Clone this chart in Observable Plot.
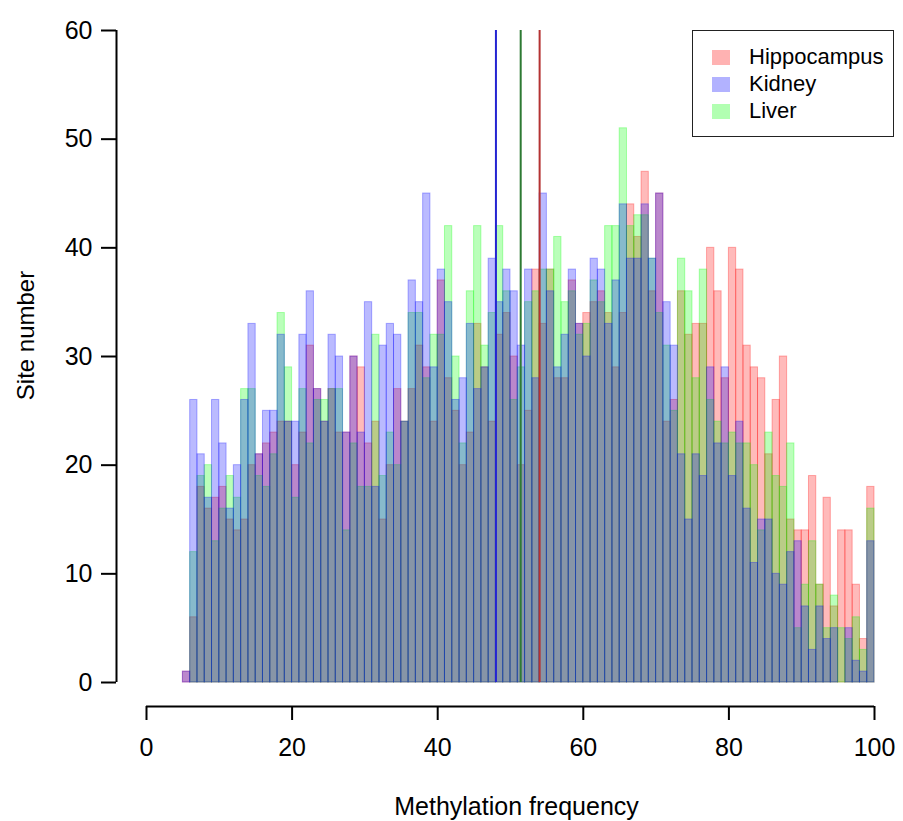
<!DOCTYPE html>
<html>
<head>
<meta charset="utf-8">
<script src="https://cdn.jsdelivr.net/npm/d3@7"></script>
<script src="https://cdn.jsdelivr.net/npm/@observablehq/plot@0.6"></script>
<style>
  html, body { margin: 0; padding: 0; background: #fff; }
  #wrap { position: relative; width: 903px; height: 821px; font-family: "Liberation Sans", Arial, sans-serif; }
  #legend { position: absolute; left: 692px; top: 30px; width: 202px; height: 107px; border: 1.5px solid #222; box-sizing: border-box; background: #fff; }
  .row { position: absolute; left: 0; height: 24px; line-height: 24px; font-size: 22px; color: #000; }
  .sw { position: absolute; left: 19px; top: 5px; width: 18px; height: 15px; }
  .lab { position: absolute; left: 56px; top: 0; white-space: nowrap; }
</style>
</head>
<body>
<div id="wrap"></div>
<script>
// Histogram bins (left edge of each 1-unit bin of methylation frequency)
const binStart = [5,6,7,8,9,10,11,12,13,14,15,16,17,18,19,20,21,22,23,24,25,26,27,28,29,30,31,32,33,34,35,36,37,38,39,40,41,42,43,44,45,46,47,48,49,50,51,52,53,54,55,56,57,58,59,60,61,62,63,64,65,66,67,68,69,70,71,72,73,74,75,76,77,78,79,80,81,82,83,84,85,86,87,88,89,90,91,92,93,94,95,96,97,98,99];

// Site counts per bin for each tissue
const hippocampus = [1,6,18,16,17,18,15,14,15,20,21,22,23,24,24,20,23,31,27,24,27,23,23,30,29,22,24,15,20,27,24,27,31,29,24,37,28,25,20,23,33,29,24,32,34,30,20,25,38,33,38,28,28,37,33,34,35,36,34,29,34,44,41,47,36,45,24,26,36,32,33,33,40,36,28,40,38,31,29,28,21,26,30,15,14,14,19,9,17,7,14,14,9,4,18];
const kidney = [1,26,21,17,26,22,16,20,26,33,21,25,25,32,24,24,32,36,27,24,32,30,23,30,23,35,18,31,33,32,24,37,35,45,29,38,35,26,28,33,27,29,39,35,38,36,31,38,28,45,36,29,32,38,33,30,39,38,33,37,44,39,39,44,39,45,35,31,21,15,21,19,29,22,29,19,24,16,11,15,15,10,9,12,13,7,3,7,4,5,0,5,2,1,13];
const liver = [0,12,19,20,13,16,19,17,27,27,19,18,21,34,29,17,27,22,26,26,27,27,14,22,18,18,32,19,23,20,24,34,34,28,32,32,42,30,22,36,42,31,34,42,36,26,29,35,36,38,38,41,35,36,32,33,37,35,42,42,51,42,43,43,39,34,31,25,39,36,28,38,26,24,22,23,22,22,20,14,23,19,18,22,5,9,13,9,5,8,5,4,6,3,16];

// Central methylation frequency marked for each tissue
const seriesNames = ["Hippocampus", "Kidney", "Liver"];
const seriesFill = ["#ff0000", "#0000ff", "#00ff00"];
const centreLines = [54.0, 48.0, 51.4];
const centreColors = ["#b43232", "#2424d2", "#2e7a34"];

const xTicks = [0, 20, 40, 60, 80, 100];
const yTicks = [0, 10, 20, 30, 40, 50, 60];

const toBins = (values) => binStart.map((b, i) => ({x1: b, x2: b + 1, count: values[i]})).filter(d => d.count > 0);
const series = {Hippocampus: toBins(hippocampus), Kidney: toBins(kidney), Liver: toBins(liver)};
const fillOf = name => seriesFill[seriesNames.indexOf(name)];

// Drawing order: hippocampus, liver, then kidney on top
const barMark = name => Plot.rect(series[name], {
  x1: "x1", x2: "x2", y1: 0, y2: "count",
  fill: fillOf(name), fillOpacity: 0.27,
  stroke: fillOf(name), strokeOpacity: 0.3, strokeWidth: 1
});

const centres = seriesNames.map((n, i) => ({name: n, x: centreLines[i], color: centreColors[i]}));

const chart = Plot.plot({
  width: 903,
  height: 821,
  marginLeft: 146,
  marginRight: 29,
  marginTop: 30,
  marginBottom: 139,
  x: {domain: [0, 100], axis: null},
  y: {domain: [0, 60], axis: null},
  style: {fontFamily: "'Liberation Sans', Arial, sans-serif", fontSize: "25px", color: "#000", background: "#fff"},
  marks: [
    barMark("Hippocampus"),
    barMark("Liver"),
    barMark("Kidney"),
    Plot.ruleX(centres, {x: "x", y1: 0, y2: 60, stroke: "color", strokeWidth: 2}),
    // y axis, offset to the left of the data region
    Plot.ruleX([0], {y1: 0, y2: 60, dx: -30, strokeWidth: 2}),
    Plot.axisY(yTicks, {anchor: "left", tickSize: 15, tickPadding: 9, dx: -30, strokeWidth: 2, fontSize: 25, label: null}),
    // x axis, offset below the data region
    Plot.ruleY([0], {x1: 0, x2: 100, dy: 24, strokeWidth: 2}),
    Plot.axisX(xTicks, {anchor: "bottom", tickSize: 14, tickPadding: 18, dy: 24, strokeWidth: 2, fontSize: 25, label: null}),
    Plot.text(["Methylation frequency"], {frameAnchor: "bottom", text: d => d, textAnchor: "middle", lineAnchor: "middle", dx: 6, dy: 124, fontSize: 25}),
    Plot.text(["Site number"], {frameAnchor: "left", text: d => d, textAnchor: "middle", lineAnchor: "middle", rotate: -90, dx: -120, dy: -21, fontSize: 24})
  ]
});

const wrap = document.getElementById("wrap");
wrap.appendChild(chart);

// Legend box in the upper right of the plotting area
const legend = document.createElement("div");
legend.id = "legend";
seriesNames.forEach((name, i) => {
  const row = document.createElement("div");
  row.className = "row";
  row.style.top = (14 + i * 27) + "px";
  row.style.width = "100%";
  const sw = document.createElement("div");
  sw.className = "sw";
  sw.style.background = seriesFill[i];
  sw.style.opacity = 0.3;
  const lab = document.createElement("div");
  lab.className = "lab";
  lab.textContent = name;
  row.appendChild(sw);
  row.appendChild(lab);
  legend.appendChild(row);
});
wrap.appendChild(legend);
</script>
</body>
</html>
